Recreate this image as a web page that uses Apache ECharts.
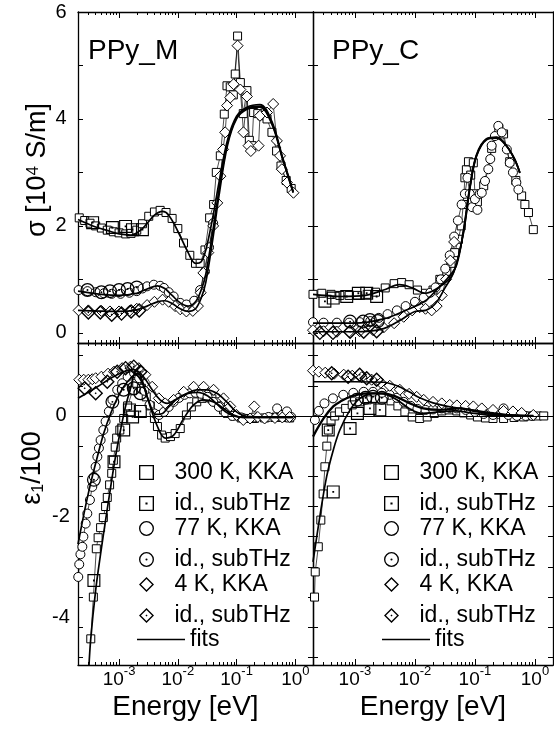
<!DOCTYPE html>
<html><head><meta charset="utf-8">
<script src="https://cdn.jsdelivr.net/npm/echarts@6/dist/echarts.min.js"></script>
<style>html,body{margin:0;padding:0;background:#fff;}#c{width:554px;height:729px;}</style>
</head><body><div id="c"></div>
<script>
// ---------- axis ticks / labels ----------
const X_MIN = 2e-4, X_MAX = 2;
const xMajor = [1e-3, 1e-2, 1e-1, 1];
const xMinorMult = [2, 3, 4, 5, 6, 7, 8, 9];
const xDecades = [1e-4, 1e-3, 1e-2, 1e-1, 1];
const sigTicks = [0, 1, 2, 3, 4, 5, 6];
const sigLabels = [0, 2, 4, 6];
const epsTicks = [1.2, 0.6, 0, -0.6, -1.2, -1.8, -2.4, -3.0, -3.6, -4.2, -4.8];
const epsLabels = [-4, -2, 0];
const panelNames = ['PPy_M', 'PPy_C'];
const legendNames = ['300 K, KKA', 'id., subTHz', '77 K, KKA', 'id., subTHz', '4 K, KKA', 'id., subTHz', 'fits'];

// ---------- PPy_M : sigma [10^4 S/m] ----------
const mS300 = [[2.1e-4,2.15],[2.6e-4,2.1],[3.2e-4,2.05],[4e-4,2.0],[5e-4,1.96],[6.3e-4,1.92],[8e-4,1.89],[1e-3,1.87],[1.3e-3,1.85],[1.6e-3,1.86],[2e-3,1.92],[2.5e-3,2.04],[3.2e-3,2.18],[4e-3,2.26],[5e-3,2.29],[6.3e-3,2.25],[8e-3,2.14],[1e-2,1.95],[1.25e-2,1.68],[1.6e-2,1.45],[2e-2,1.3],[2.4e-2,1.3],[2.9e-2,1.55],[3.48e-2,2.15],[4.07e-2,2.4],[4.52e-2,3.0],[5.29e-2,3.31],[6.18e-2,4.09],[6.87e-2,4.62],[7.8e-2,4.6],[8.8e-2,4.45],[9.5e-2,4.84],[0.104,5.55],[0.116,4.68],[0.13,4.1],[0.15,4.53],[0.165,3.6],[0.183,3.5],[0.195,4.12],[0.23,4.1],[0.27,4.06],[0.33,4.0],[0.4,3.75],[0.48,3.4],[0.57,3.12],[0.7,2.85],[0.85,2.7]];
const mS300sub = [[3.55e-4,2.06],[7.7e-4,1.97],[1.29e-3,1.99],[1.69e-3,1.93],[2.5e-3,1.93]];
const mS77 = [[2.05e-4,0.8],[2.9e-4,0.78],[4e-4,0.76],[5.5e-4,0.74],[7.5e-4,0.73],[1.06e-3,0.73],[1.5e-3,0.75],[2e-3,0.78],[2.5e-3,0.83],[3e-3,0.87],[3.9e-3,0.9],[5e-3,0.88],[5.8e-3,0.84],[7e-3,0.76],[8.5e-3,0.68],[1.1e-2,0.56],[1.4e-2,0.53],[1.9e-2,0.6],[2.4e-2,0.8],[2.9e-2,1.15],[3.4e-2,1.6],[4e-2,2.05]];
const mS77sub = [[2.9e-4,0.8],[5e-4,0.76],[7e-4,0.78],[1e-3,0.8],[1.4e-3,0.82],[2e-3,0.85]];
const mS4 = [[2.05e-4,0.42],[3e-4,0.42],[5e-4,0.41],[7e-4,0.4],[1e-3,0.4],[1.5e-3,0.41],[2e-3,0.45],[3e-3,0.52],[4e-3,0.58],[5.5e-3,0.62],[7e-3,0.58],[9e-3,0.5],[1.1e-2,0.44],[1.4e-2,0.4],[1.8e-2,0.41],[2.2e-2,0.5],[2.45e-2,0.75],[2.72e-2,1.12],[3.3e-2,1.5],[4e-2,2.0],[4.7e-2,2.43],[5.3e-2,2.93],[5.9e-2,3.43],[6.4e-2,3.75],[6.9e-2,4.25],[7.8e-2,4.4],[8.9e-2,4.65],[0.104,5.37],[0.116,4.55],[0.131,3.75],[0.15,4.42],[0.16,3.5],[0.175,3.4],[0.237,3.5],[0.25,4.06],[0.33,4.12],[0.42,4.28],[0.485,3.59],[0.55,3.31],[0.59,3.06],[0.72,2.81],[0.93,2.62]];
const mS4sub = [[3e-4,0.38],[4.8e-4,0.38],[7.5e-4,0.34],[1.1e-3,0.36],[1.6e-3,0.4],[2.2e-3,0.42]];
const mSfit300 = [[2e-4,2.12],[4e-4,1.98],[7e-4,1.9],[1e-3,1.85],[1.6e-3,1.83],[2.5e-3,1.95],[4e-3,2.2],[5.5e-3,2.27],[7e-3,2.2],[1e-2,1.9],[1.5e-2,1.5],[2e-2,1.3],[2.5e-2,1.33],[3e-2,1.55],[4e-2,2.2],[5e-2,2.8],[7e-2,3.6],[0.1,4.05],[0.15,4.22],[0.25,4.27],[0.4,3.95],[0.6,3.3],[0.92,2.65]];
const mSfit77 = [[2e-4,0.78],[5e-4,0.72],[1e-3,0.7],[2e-3,0.74],[3e-3,0.82],[4.5e-3,0.88],[6e-3,0.83],[8e-3,0.7],[1.1e-2,0.56],[1.5e-2,0.5],[2e-2,0.58],[2.5e-2,0.8],[3e-2,1.1],[4e-2,1.95],[5e-2,2.65],[7e-2,3.55],[0.1,4.02],[0.15,4.2],[0.25,4.24],[0.4,3.92],[0.6,3.28],[0.92,2.63]];
const mSfit4 = [[2e-4,0.42],[1e-3,0.4],[2e-3,0.43],[3e-3,0.5],[4.5e-3,0.58],[6e-3,0.6],[8e-3,0.55],[1.1e-2,0.45],[1.5e-2,0.4],[2e-2,0.45],[2.5e-2,0.65],[3e-2,0.95],[4e-2,1.8],[5e-2,2.55],[7e-2,3.5],[0.1,4.0],[0.15,4.18],[0.25,4.22],[0.4,3.9],[0.6,3.27],[0.92,2.62]];

// ---------- PPy_C : sigma [10^4 S/m] ----------
const cS300 = [[2e-4,0.72],[2.8e-4,0.74],[4e-4,0.72],[5.6e-4,0.7],[8e-4,0.7],[1.1e-3,0.7],[1.6e-3,0.72],[2.2e-3,0.76],[3.2e-3,0.84],[4.5e-3,0.92],[6e-3,0.94],[8e-3,0.9],[1.1e-2,0.8],[1.5e-2,0.74],[2e-2,0.8],[2.6e-2,1.0],[3.4e-2,1.15],[4e-2,1.3],[4.6e-2,1.5],[5.3e-2,1.75],[5.9e-2,2.0],[6.4e-2,2.4],[6.8e-2,2.9],[7.2e-2,3.05],[7.8e-2,3.2],[8.5e-2,2.95],[9.4e-2,3.18],[0.1,2.6],[0.11,2.45],[0.14,2.75],[0.19,3.45],[0.25,3.82],[0.3,3.72],[0.38,3.2],[0.48,2.85],[0.6,2.56],[0.68,2.4],[0.78,2.25],[0.94,1.93]];
const cS300sub = [[3.16e-4,0.59],[4.35e-4,0.65],[7.3e-4,0.68],[1.14e-3,0.74],[1.57e-3,0.74],[2.3e-3,0.68]];
const cS77 = [[2e-4,0.2],[3e-4,0.19],[5e-4,0.19],[8e-4,0.19],[1.2e-3,0.2],[1.8e-3,0.22],[2.5e-3,0.28],[3.5e-3,0.35],[5e-3,0.42],[7e-3,0.5],[1e-2,0.58],[1.4e-2,0.66],[1.8e-2,0.75],[2.2e-2,0.85],[2.7e-2,1.0],[3.2e-2,1.2],[3.8e-2,1.45],[4.5e-2,1.8],[5.2e-2,2.1],[6e-2,2.4],[6.8e-2,2.6],[7.5e-2,2.9],[8.2e-2,2.6],[9e-2,2.35],[0.1,2.5],[0.11,2.3],[0.12,2.6],[0.13,2.62],[0.147,2.84],[0.167,3.06],[0.18,3.25],[0.19,3.5],[0.215,3.68],[0.245,3.87],[0.28,3.75],[0.34,3.43],[0.38,3.18],[0.43,3.0],[0.49,2.81],[0.53,2.68]];
const cS77sub = [[8.3e-4,0.21],[1.37e-3,0.21],[1.78e-3,0.24],[2.4e-3,0.22]];
const cS4 = [[2e-4,0.05],[3e-4,0.03],[5e-4,0.02],[8e-4,0.02],[1.2e-3,0.03],[2e-3,0.05],[3e-3,0.1],[4.5e-3,0.18],[6.5e-3,0.3],[9e-3,0.42],[1.2e-2,0.48],[1.5e-2,0.45],[1.9e-2,0.42],[2.3e-2,0.5],[2.8e-2,0.7],[3.3e-2,1.0],[3.9e-2,1.35],[4.5e-2,1.7]];
const cS4sub = [[2.6e-4,0.0],[4.3e-4,0.0],[8.3e-4,0.02],[1.4e-3,0.02],[2.3e-3,0.03]];
const cSfit300 = [[2e-4,0.72],[6e-4,0.68],[1.5e-3,0.7],[3e-3,0.8],[5.5e-3,0.9],[9e-3,0.84],[1.5e-2,0.74],[2.5e-2,0.85],[4e-2,1.05],[4.95e-2,1.3],[6.4e-2,1.87],[8.3e-2,2.74],[0.106,3.31],[0.156,3.62],[0.23,3.65],[0.336,3.5],[0.46,3.25],[0.56,3.0]];
const cSfit77 = [[2e-4,0.18],[1e-3,0.18],[3e-3,0.26],[7e-3,0.42],[1.5e-2,0.6],[2.5e-2,0.85],[3.5e-2,1.02],[4.95e-2,1.27],[6.4e-2,1.9],[8.3e-2,2.76],[0.106,3.33],[0.156,3.63],[0.23,3.66],[0.336,3.5],[0.46,3.24],[0.56,2.99]];
const cSfit4 = [[2e-4,0.02],[1e-3,0.02],[3e-3,0.08],[6e-3,0.25],[1e-2,0.4],[1.5e-2,0.42],[2.2e-2,0.55],[3.2e-2,0.85],[4.5e-2,1.15],[6.4e-2,1.85],[8.3e-2,2.72],[0.106,3.3],[0.156,3.61],[0.23,3.64],[0.336,3.49],[0.46,3.24],[0.56,2.99]];

// ---------- PPy_M : eps1/100 ----------
const mE300 = [[3.3e-4,-4.43],[3.65e-4,-3.6],[4.1e-4,-2.64],[4.4e-4,-2.42],[4.85e-4,-2.22],[5.4e-4,-2.02],[5.9e-4,-1.8],[6.3e-4,-1.62],[6.9e-4,-1.37],[7.5e-4,-1.14],[8e-4,-0.88],[8.6e-4,-0.62],[9.1e-4,-0.44],[1.03e-3,-0.28],[1.2e-3,-0.05],[1.4e-3,0.2],[1.7e-3,0.5],[2e-3,0.65],[2.4e-3,0.55],[2.9e-3,0.38],[3.4e-3,0.2],[4e-3,-0.05],[4.5e-3,-0.21],[5.3e-3,-0.38],[6.1e-3,-0.44],[7.5e-3,-0.41],[9e-3,-0.35],[1.1e-2,-0.25],[1.4e-2,0.02],[1.7e-2,0.18],[2.1e-2,0.28],[2.6e-2,0.35],[3.1e-2,0.38],[3.8e-2,0.34],[4.6e-2,0.28],[5.3e-2,0.2],[6e-2,0.12],[7e-2,0.05],[8.9e-2,0.0],[0.12,-0.04],[0.16,-0.05],[0.2,-0.05],[0.3,-0.04],[0.45,-0.03],[0.6,-0.03],[0.8,-0.04]];
const mE300sub = [[3.73e-4,-3.27],[8.2e-4,-0.91],[1.2e-3,-0.28],[1.5e-3,0.12],[1.7e-3,-0.02],[2.3e-3,0.09]];
const mE77 = [[2.02e-4,-3.2],[2.1e-4,-2.95],[2.2e-4,-2.75],[2.37e-4,-2.6],[2.47e-4,-2.4],[2.7e-4,-2.14],[2.88e-4,-1.94],[3.19e-4,-1.67],[3.5e-4,-1.41],[3.73e-4,-1.21],[3.99e-4,-1.01],[4.27e-4,-0.81],[4.54e-4,-0.64],[4.85e-4,-0.48],[5.4e-4,-0.28],[5.9e-4,-0.11],[6.7e-4,0.09],[7.7e-4,0.32],[9.3e-4,0.52],[1.13e-3,0.65],[1.4e-3,0.78],[1.8e-3,0.85],[2.2e-3,0.75],[2.7e-3,0.5],[3.3e-3,0.22],[4e-3,0.05],[4.8e-3,0.02],[5.8e-3,0.08],[7e-3,0.18],[8.5e-3,0.28],[1.05e-2,0.36],[1.3e-2,0.42],[1.6e-2,0.45],[2e-2,0.46],[2.5e-2,0.44],[3.2e-2,0.38],[4e-2,0.28],[5e-2,0.18],[6.5e-2,0.06],[8.5e-2,0.0],[0.12,-0.03],[0.2,-0.03],[0.35,-0.02],[0.49,0.15],[0.6,0.02],[0.72,0.09],[0.85,-0.02]];
const mE77sub = [[3.73e-4,-1.27],[7.7e-4,0.28],[1.2e-3,0.52],[1.78e-3,0.55],[2.3e-3,0.45]];
const mE4 = [[2.1e-4,0.72],[2.5e-4,0.72],[3e-4,0.72],[3.5e-4,0.73],[4e-4,0.75],[5e-4,0.78],[6.5e-4,0.84],[8.2e-4,0.88],[1.13e-3,0.95],[1.57e-3,0.98],[2.17e-3,0.95],[2.8e-3,0.82],[3.66e-3,0.58],[4.75e-3,0.35],[6.1e-3,0.25],[8.5e-3,0.32],[1.26e-2,0.48],[1.86e-2,0.58],[2.75e-2,0.58],[4.06e-2,0.52],[6e-2,0.35],[7.8e-2,0.19],[0.1,0.02],[0.13,-0.08],[0.17,-0.05],[0.2,0.19],[0.23,-0.02],[0.3,-0.05],[0.45,-0.04],[0.6,-0.03],[0.8,-0.02]];
const mE4sub = [[2.6e-4,0.55],[4e-4,0.45],[6.3e-4,0.68],[9.3e-4,0.88],[1.29e-3,0.95],[1.78e-3,0.98],[2.3e-3,0.88]];
const mEfit300 = [[3e-4,-5.2],[3.28e-4,-4.46],[3.99e-4,-3.47],[4.85e-4,-2.74],[5.9e-4,-2.07],[7.2e-4,-1.41],[8.7e-4,-0.81],[1.06e-3,-0.28],[1.29e-3,0.19],[1.57e-3,0.55],[1.9e-3,0.85],[2.3e-3,0.8],[3e-3,0.38],[4.5e-3,-0.21],[6.1e-3,-0.44],[8.5e-3,-0.38],[1.26e-2,-0.05],[1.86e-2,0.22],[2.75e-2,0.32],[4.06e-2,0.28],[6e-2,0.15],[8.9e-2,0.02],[0.13,-0.03],[0.3,-0.03],[0.92,-0.03]];
const mEfit77 = [[2e-4,-2.55],[2.53e-4,-1.94],[3.28e-4,-1.34],[4.27e-4,-0.81],[5.5e-4,-0.34],[7.2e-4,0.05],[9.3e-4,0.35],[1.2e-3,0.58],[1.57e-3,0.75],[1.9e-3,0.82],[2.5e-3,0.65],[3.2e-3,0.3],[4.2e-3,0.03],[5.5e-3,0.05],[7e-3,0.18],[1e-2,0.35],[1.5e-2,0.45],[2.2e-2,0.47],[3.2e-2,0.4],[4.5e-2,0.25],[6.5e-2,0.08],[9e-2,0.0],[0.13,-0.03],[0.3,-0.03],[0.92,-0.03]];
const mEfit4 = [[2e-4,0.35],[4.27e-4,0.58],[7.2e-4,0.75],[1.2e-3,0.88],[1.78e-3,0.92],[2.6e-3,0.78],[3.66e-3,0.52],[5e-3,0.32],[6.6e-3,0.25],[9e-3,0.32],[1.44e-2,0.45],[2.1e-2,0.52],[3.1e-2,0.52],[4.6e-2,0.45],[6.8e-2,0.28],[0.1,0.08],[0.15,-0.01],[0.3,-0.02],[0.92,-0.02]];

// ---------- PPy_C : eps1/100 ----------
const cE300 = [[2.12e-4,-3.6],[2.18e-4,-3.1],[2.45e-4,-2.6],[2.7e-4,-2.07],[2.95e-4,-1.55],[3.16e-4,-1.01],[3.4e-4,-0.6],[3.6e-4,-0.28],[4e-4,-0.11],[4.6e-4,0.0],[5.5e-4,0.08],[7e-4,0.15],[9e-4,0.22],[1.2e-3,0.28],[1.6e-3,0.32],[2.2e-3,0.35],[3e-3,0.35],[4e-3,0.3],[5.2e-3,0.2],[6.8e-3,0.08],[9e-3,-0.02],[1.2e-2,-0.05],[1.6e-2,-0.02],[2.1e-2,0.05],[2.8e-2,0.1],[3.7e-2,0.12],[5e-2,0.1],[6.5e-2,0.06],[8.5e-2,0.02],[0.11,-0.02],[0.15,-0.04],[0.2,-0.05],[0.3,-0.05],[0.45,-0.03],[0.65,-0.02],[0.85,0.0],[1.1,0.0],[1.4,0.0]];
const cE300sub = [[3.59e-4,-0.28],[4.35e-4,-1.51],[8.3e-4,-0.25],[1.1e-3,0.05],[1.78e-3,0.15],[2.6e-3,0.12]];
const cE77 = [[2.15e-4,-0.08],[2.5e-4,0.1],[3.1e-4,0.25],[4.3e-4,0.35],[6.4e-4,0.42],[9.4e-4,0.46],[1.4e-3,0.48],[2e-3,0.48],[2.8e-3,0.46],[3.8e-3,0.42],[5e-3,0.36],[6.5e-3,0.28],[8.5e-3,0.2],[1.1e-2,0.14],[1.5e-2,0.12],[2e-2,0.13],[2.8e-2,0.15],[3.8e-2,0.16],[5e-2,0.15],[7e-2,0.12],[0.1,0.08],[0.14,0.04],[0.2,0.02],[0.3,0.15],[0.36,0.02],[0.5,0.0],[0.7,0.0],[0.9,0.0]];
const cE77sub = [[1.07e-3,0.32],[1.5e-3,0.36],[2e-3,0.38],[2.8e-3,0.36]];
const cE4 = [[2e-4,0.9],[2.5e-4,0.88],[3.2e-4,0.86],[4.5e-4,0.84],[6.5e-4,0.82],[9e-4,0.8],[1.3e-3,0.77],[1.9e-3,0.72],[2.7e-3,0.66],[3.8e-3,0.6],[5.6e-3,0.52],[8e-3,0.44],[1.07e-2,0.38],[1.4e-2,0.32],[2e-2,0.28],[2.8e-2,0.25],[3.8e-2,0.22],[5e-2,0.21],[7e-2,0.2],[9.4e-2,0.19],[0.13,0.15],[0.2,0.12],[0.3,0.1],[0.43,0.09],[0.6,0.06],[0.94,0.02]];
const cE4sub = [[4.1e-4,0.85],[7.7e-4,0.78],[1.2e-3,0.82],[1.57e-3,0.75],[2.3e-3,0.72]];
const cEfit300 = [[2e-4,-2.9],[2.6e-4,-2.0],[3.37e-4,-1.21],[4.35e-4,-0.68],[5.6e-4,-0.28],[8.3e-4,0.12],[1.21e-3,0.35],[2e-3,0.45],[3e-3,0.44],[5e-3,0.32],[8e-3,0.15],[1.3e-2,0.05],[2.5e-2,0.08],[4.5e-2,0.1],[0.1,0.05],[0.25,0.0],[0.94,0.0]];
const cEfit77 = [[2e-4,-0.41],[3e-4,-0.05],[4.35e-4,0.19],[6e-4,0.3],[8.3e-4,0.38],[1.57e-3,0.45],[2.97e-3,0.45],[4.95e-3,0.38],[8.3e-3,0.25],[1.38e-2,0.15],[2.6e-2,0.12],[5.6e-2,0.15],[0.106,0.09],[0.26,0.02],[0.94,0.0]];
const cEfit4 = [[2e-4,0.68],[1e-3,0.68],[3e-3,0.67],[5e-3,0.6],[8e-3,0.48],[1.2e-2,0.36],[2e-2,0.26],[3.5e-2,0.19],[6e-2,0.15],[0.1,0.11],[0.2,0.06],[0.4,0.02],[0.94,0.0]];

// ---------- styling ----------
const FONT = "'Liberation Sans', Arial, Helvetica, sans-serif";
const BLACK = '#000';
const SQ = 'path://M0,0L100,0L100,100L0,100ZM9,9L9,91L91,91L91,9Z';
const SQD = SQ + 'M43,43L57,43L57,57L43,57Z';
const CI = 'path://M0,50A50,50,0,1,1,100,50A50,50,0,1,1,0,50ZM9,50A41,41,0,1,0,91,50A41,41,0,1,0,9,50Z';
const CID = CI + 'M43,50A7,7,0,1,1,57,50A7,7,0,1,1,43,50Z';
const DI = 'path://M50,0L100,50L50,100L0,50ZM50,13L13,50L50,87L87,50Z';
const DID = DI + 'M43,50L50,43L57,50L50,57Z';
const LINEICON = 'path://M0,0L100,0L100,3L0,3Z';

const xMinor = [];
xDecades.forEach(d => xMinorMult.forEach(m => {
  const v = +(d * m).toPrecision(3);
  if (v >= X_MIN && v <= X_MAX) xMinor.push(v);
}));

const grids = [
  {left: 78, top: 12, width: 235, height: 331},
  {left: 313, top: 12, width: 240, height: 331},
  {left: 78, top: 343, width: 235, height: 322},
  {left: 313, top: 343, width: 240, height: 322}
];

const axLine = {show: true, onZero: false, lineStyle: {color: BLACK, width: 1.3}};
const tickLine = {color: BLACK, width: 1};
const xAxes = [], yAxes = [];
for (let g = 0; g < 4; g++) {
  const bottomRow = g >= 2, isLeft = g % 2 === 0, isTop = g < 2;
  const base = {type: 'log', logBase: 10, gridIndex: g, min: X_MIN, max: X_MAX, silent: true,
    splitLine: {show: false}, minorTick: {show: false}, minorSplitLine: {show: false}};
  xAxes.push(Object.assign({}, base, {
    position: 'bottom', axisLine: axLine,
    axisTick: {show: true, inside: true, length: 6, customValues: xMajor, lineStyle: tickLine},
    axisLabel: bottomRow ? {
      show: true, customValues: xMajor, margin: 0, color: BLACK, fontFamily: FONT,
      formatter: v => '{b|10}{s|' + Math.round(Math.log10(v)) + '}',
      rich: {b: {fontSize: 19, fontFamily: FONT, color: BLACK, lineHeight: 30},
             s: {fontSize: 13, fontFamily: FONT, color: BLACK, verticalAlign: 'top', lineHeight: 14}}
    } : {show: false},
    name: bottomRow ? 'Energy [eV]' : '', nameLocation: 'middle', nameGap: 28,
    nameTextStyle: {fontSize: 28, fontFamily: FONT, color: BLACK, padding: isLeft ? [0, 20, 0, 0] : [0, 0, 0, 0]}
  }));
  xAxes.push(Object.assign({}, base, {position: 'bottom', axisLine: {show: false, onZero: false},
    axisTick: {show: true, inside: true, length: 3, customValues: xMinor, lineStyle: tickLine}, axisLabel: {show: false}}));
  xAxes.push(Object.assign({}, base, {position: 'top', axisLine: axLine,
    axisTick: {show: true, inside: true, length: 6, customValues: xMajor, lineStyle: tickLine}, axisLabel: {show: false}}));
  xAxes.push(Object.assign({}, base, {position: 'top', axisLine: {show: false, onZero: false},
    axisTick: {show: true, inside: true, length: 3, customValues: xMinor, lineStyle: tickLine}, axisLabel: {show: false}}));

  const yb = {type: 'value', gridIndex: g, min: isTop ? -0.19 : -4.95, max: isTop ? 6 : 1.45, silent: true,
    splitLine: {show: false}, axisLine: axLine,
    axisTick: {show: true, inside: true, length: 5, customValues: isTop ? sigTicks : epsTicks, lineStyle: tickLine}};
  yAxes.push(Object.assign({}, yb, {
    position: 'left',
    axisLabel: isLeft ? {show: true, customValues: isTop ? sigLabels : epsLabels, fontSize: 20, fontFamily: FONT,
      color: BLACK, margin: 17, align: 'center'} : {show: false}
  }));
  yAxes.push(Object.assign({}, yb, {position: 'right', axisLabel: {show: false}}));
}

function kka(name, data, sym, size, g) {
  return {type: 'line', name, data, xAxisIndex: 4 * g, yAxisIndex: 2 * g, symbol: sym, symbolSize: size,
    showSymbol: true, showAllSymbol: true, itemStyle: {color: '#fff', borderColor: BLACK, borderWidth: 1, opacity: 1},
    lineStyle: {color: BLACK, width: 0.7}, emphasis: {disabled: true}, silent: true, z: 2};
}
function sub(data, sym, size, g) {
  return {type: 'scatter', name: 'id., subTHz', data, xAxisIndex: 4 * g, yAxisIndex: 2 * g, symbol: sym,
    symbolSize: size, symbolKeepAspect: true, itemStyle: {color: BLACK, borderWidth: 0, opacity: 1},
    emphasis: {disabled: true}, silent: true, z: 3};
}
function fit(data, g, w) {
  return {type: 'line', name: 'fits', data, xAxisIndex: 4 * g, yAxisIndex: 2 * g, showSymbol: false,
    symbol: 'none', smooth: 0.35, lineStyle: {color: BLACK, width: w || 1.7}, emphasis: {disabled: true},
    silent: true, z: 4};
}
function panel(g, d) {
  const s300 = kka(legendNames[0], d[0], 'rect', 8, g);
  if (g >= 2) {
    s300.markLine = {silent: true, symbol: ['none', 'none'], label: {show: false},
      lineStyle: {color: BLACK, width: 1, type: 'solid'}, data: [{yAxis: 0}]};
  }
  return [s300, sub(d[1], SQD, 13, g), kka(legendNames[2], d[2], 'circle', 9, g), sub(d[3], CID, 14, g),
    kka(legendNames[4], d[4], 'diamond', 11, g), sub(d[5], DID, 15, g),
    fit(d[6], g), fit(d[7], g, g === 3 ? 2.3 : 1.7), fit(d[8], g)];
}
const series = [].concat(
  panel(0, [mS300, mS300sub, mS77, mS77sub, mS4, mS4sub, mSfit300, mSfit77, mSfit4]),
  panel(1, [cS300, cS300sub, cS77, cS77sub, cS4, cS4sub, cSfit300, cSfit77, cSfit4]),
  panel(2, [mE300, mE300sub, mE77, mE77sub, mE4, mE4sub, mEfit300, mEfit77, mEfit4]),
  panel(3, [cE300, cE300sub, cE77, cE77sub, cE4, cE4sub, cEfit300, cEfit77, cEfit4])
);

const legends = [];
const legIconLeft = [139, 384], legFitLeft = [137, 382];
const pairTops = [461, 517, 573];
const icons = [[SQ, SQD], [CI, CID], [DI, DID]];
const legText = {fontSize: 23, fontFamily: FONT, color: BLACK, lineHeight: 20};
const legItem = {color: BLACK, borderWidth: 0, borderColor: 'transparent', opacity: 1};
for (let p = 0; p < 2; p++) {
  for (let k = 0; k < 3; k++) {
    legends.push({orient: 'vertical', left: legIconLeft[p], top: pairTops[k], padding: 0, itemWidth: 46,
      itemHeight: 15, itemGap: 8, selectedMode: false, textStyle: legText, itemStyle: legItem,
      data: [{name: legendNames[2 * k], icon: icons[k][0]}, {name: legendNames[2 * k + 1], icon: icons[k][1]}]});
  }
  legends.push({orient: 'vertical', left: legFitLeft[p], top: 628, padding: 0, itemWidth: 48, itemHeight: 15,
    selectedMode: false, textStyle: legText, itemStyle: legItem,
    data: [{name: legendNames[6], icon: LINEICON}]});
}

const titleRich = {
  t: {fontSize: 27, fontFamily: FONT, fill: BLACK},
  p: {fontSize: 17, fontFamily: FONT, fill: BLACK, verticalAlign: 'top'},
  b: {fontSize: 16, fontFamily: FONT, fill: BLACK, verticalAlign: 'bottom'}
};

const chart = echarts.init(document.getElementById('c'), null, {renderer: 'canvas'});
chart.setOption({
  backgroundColor: '#fff',
  animation: false,
  title: [
    {text: panelNames[0], left: 88, top: 37, padding: 0, textStyle: {fontSize: 28, fontWeight: 'normal', fontFamily: FONT, color: BLACK}},
    {text: panelNames[1], left: 332, top: 37, padding: 0, textStyle: {fontSize: 28, fontWeight: 'normal', fontFamily: FONT, color: BLACK}}
  ],
  graphic: [
    {type: 'text', x: 38, y: 170, rotation: Math.PI / 2, silent: true,
     style: {text: '{t|σ [10}{p|4}{t| S/m]}', rich: titleRich, align: 'center', verticalAlign: 'middle', fill: BLACK}},
    {type: 'text', x: 33, y: 468, rotation: Math.PI / 2, silent: true,
     style: {text: '{t|ε}{b|1}{t|/100}', rich: titleRich, align: 'center', verticalAlign: 'middle', fill: BLACK}}
  ],
  grid: grids,
  xAxis: xAxes,
  yAxis: yAxes,
  legend: legends,
  series: series
});
</script></body></html>
